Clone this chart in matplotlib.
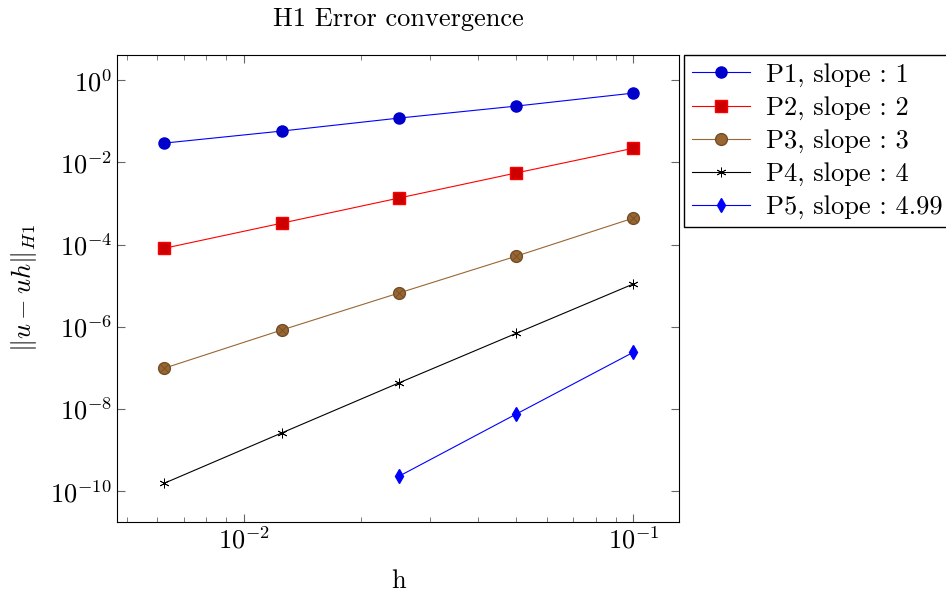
import matplotlib
matplotlib.use("Agg")
import matplotlib.pyplot as plt
from matplotlib.ticker import FixedLocator, LogLocator, NullLocator

plt.rcParams['font.family'] = 'serif'
plt.rcParams['font.serif'] = ['cmr10', 'DejaVu Serif']
plt.rcParams['mathtext.fontset'] = 'cm'
plt.rcParams['axes.formatter.use_mathtext'] = True

h = [0.00625, 0.0125, 0.025, 0.05, 0.1]
h5 = [0.025, 0.05, 0.1]
err_p1 = [0.0293, 0.0575, 0.119, 0.233, 0.483]
err_p2 = [8.1e-5, 3.3e-4, 1.35e-3, 5.5e-3, 2.2e-2]
err_p3 = [9.8e-8, 8.3e-7, 6.6e-6, 5.2e-5, 4.4e-4]
err_p4 = [1.56e-10, 2.6e-9, 4.3e-8, 6.9e-7, 1.1e-5]
err_p5 = [2.3e-10, 7.5e-9, 2.4e-7]
labels = ["P1, slope : 1", "P2, slope : 2", "P3, slope : 3",
          "P4, slope : 4", "P5, slope : 4.99"]

fs = 19

fig = plt.figure(figsize=(9.46, 5.96), dpi=100)
ax = fig.add_axes([0.1237, 0.1242, 0.5941, 0.7835])

brown = (0.6, 0.4, 0.2)
ax.plot(h, err_p1, color='blue', lw=0.8, marker='o', ms=8,
        mfc=(0, 0, 0.8), mec=(0, 0, 0.8), label=labels[0])
ax.plot(h, err_p2, color='red', lw=0.8, marker='s', ms=8,
        mfc=(0.8, 0, 0), mec='red', label=labels[1])
ax.plot(h, err_p3, color=brown, lw=0.8, marker='o', ms=8.5,
        mfc=brown, mec=(0.45, 0.3, 0.15), label=labels[2])
ax.plot(h, err_p3, ls='none', marker='x', ms=5.5, mew=0.6,
        color=(0.45, 0.3, 0.15))
ax.plot(h, err_p4, color='black', lw=0.8, marker=(6, 2, 0), ms=7,
        mew=0.6, label=labels[3])
ax.plot(h5, err_p5, color='blue', lw=0.8, marker='d', ms=7,
        mfc='blue', mec='blue', label=labels[4])

ax.set_xscale('log')
ax.set_yscale('log')
ax.set_xlim(10 ** -2.3256, 10 ** -0.883)
ax.set_ylim(10 ** -10.75, 10 ** 0.61)

ax.yaxis.set_major_locator(FixedLocator([1e0, 1e-2, 1e-4, 1e-6, 1e-8, 1e-10]))
ax.yaxis.set_minor_locator(NullLocator())
ax.xaxis.set_major_locator(FixedLocator([1e-2, 1e-1]))
ax.xaxis.set_minor_locator(LogLocator(base=10, subs=range(2, 10), numticks=20))

ax.tick_params(which='both', direction='in', top=True, right=True,
               labelsize=fs, color='0.4')
ax.tick_params(which='major', length=6, width=0.8)
ax.tick_params(which='minor', length=3.5, width=0.6)
for s in ax.spines.values():
    s.set_linewidth(0.8)

ax.set_title("H1 Error convergence", fontsize=fs, pad=21)
ax.set_xlabel("h", fontsize=fs, labelpad=11)
ax.set_ylabel(r"$\|u-uh\|_{H1}$", fontsize=fs, labelpad=8)

ax.legend(loc='upper left', bbox_to_anchor=(1.009, 1.0), borderaxespad=0,
          fontsize=fs, fancybox=False, edgecolor='black', framealpha=1,
          handlelength=2.2, handletextpad=0.6, labelspacing=0.35,
          borderpad=0.3)

fig.savefig("out.png", dpi=100)
